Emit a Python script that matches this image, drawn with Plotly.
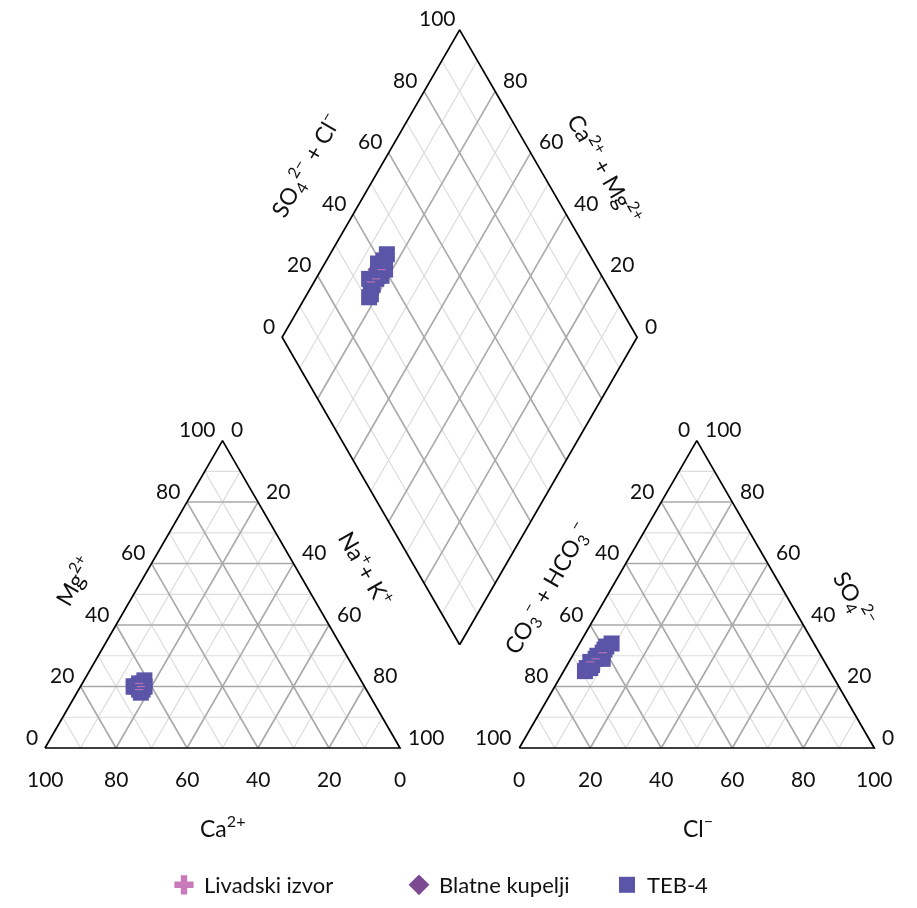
import plotly.graph_objects as go
import math

# ---------------- data (% meq) ----------------
series_names = ["Livadski izvor", "Blatne kupelji", "TEB-4"]

teb_ca   = [64, 62, 63, 61, 64, 65, 63, 62, 65, 63, 64, 62]
teb_mg   = [18, 21, 20, 22, 19, 20, 21, 20, 20, 19, 20, 20]
teb_nak  = [18, 17, 17, 17, 17, 15, 16, 18, 15, 18, 16, 18]
teb_hco3 = [69, 67, 66, 64, 63, 61, 59, 60, 66, 62, 57, 68]
teb_so4  = [25, 26, 28, 29, 30, 31, 33, 32, 27, 29, 34, 26]
teb_cl   = [6, 7, 6, 7, 7, 8, 8, 8, 7, 9, 9, 6]

liv_ca   = [63, 64, 63]
liv_mg   = [20, 19, 21]
liv_nak  = [17, 17, 16]
liv_hco3 = [64, 61, 66]
liv_so4  = [29, 31, 28]
liv_cl   = [7, 8, 6]

bla_ca   = [63, 64]
bla_mg   = [20, 20]
bla_nak  = [17, 16]
bla_hco3 = [63, 62]
bla_so4  = [30, 30]
bla_cl   = [7, 8]

tick_values = [0, 20, 40, 60, 80, 100]

# ---------------- geometry ----------------
S = math.sqrt(3) / 2
G = 33.6            # gap between triangles
PX = 3.55           # px per unit
X0, Y0 = 45, 748    # pixel of left-triangle origin


def left_pt(ca, mg, na):
    return na + mg / 2, mg * S


def right_pt(hco3, so4, cl):
    return 100 + G + cl + so4 / 2, so4 * S


def dia_pt(a, m):
    bx, by = 100 + G / 2, G * S
    return bx + 0.5 * a - 0.5 * m, by + S * a + S * m


def px2u(px, py):
    return (px - X0) / PX, (Y0 - py) / PX


fig = go.Figure()

light_x, light_y, dark_x, dark_y = [], [], [], []


def add_seg(p, q, k):
    if k % 20 == 0:
        dark_x.extend([p[0], q[0], None]); dark_y.extend([p[1], q[1], None])
    else:
        light_x.extend([p[0], q[0], None]); light_y.extend([p[1], q[1], None])


for k in range(10, 100, 10):
    add_seg(left_pt(100 - k, k, 0), left_pt(0, k, 100 - k), k)
    add_seg(left_pt(100 - k, 0, k), left_pt(0, 100 - k, k), k)
    add_seg(left_pt(k, 0, 100 - k), left_pt(k, 100 - k, 0), k)
    add_seg(right_pt(100 - k, k, 0), right_pt(0, k, 100 - k), k)
    add_seg(right_pt(100 - k, 0, k), right_pt(0, 100 - k, k), k)
    add_seg(right_pt(k, 0, 100 - k), right_pt(k, 100 - k, 0), k)
    add_seg(dia_pt(k, 0), dia_pt(k, 100), k)
    add_seg(dia_pt(0, k), dia_pt(100, k), k)

fig.add_trace(go.Scatter(x=light_x, y=light_y, mode="lines",
                         line=dict(color="#dcdcdc", width=1.2),
                         hoverinfo="skip", showlegend=False))
fig.add_trace(go.Scatter(x=dark_x, y=dark_y, mode="lines",
                         line=dict(color="#a8a8a8", width=1.6),
                         hoverinfo="skip", showlegend=False))

ox, oy = [], []
for poly in [
    [left_pt(100, 0, 0), left_pt(0, 0, 100), left_pt(0, 100, 0), left_pt(100, 0, 0)],
    [right_pt(100, 0, 0), right_pt(0, 0, 100), right_pt(0, 100, 0), right_pt(100, 0, 0)],
    [dia_pt(0, 0), dia_pt(100, 0), dia_pt(100, 100), dia_pt(0, 100), dia_pt(0, 0)],
]:
    for p in poly:
        ox.append(p[0]); oy.append(p[1])
    ox.append(None); oy.append(None)
fig.add_trace(go.Scatter(x=ox, y=oy, mode="lines",
                         line=dict(color="black", width=1.7),
                         hoverinfo="skip", showlegend=False))


def all_points(ca, mg, nak, hco3, so4, cl):
    xs, ys = [], []
    for i in range(len(ca)):
        p = left_pt(ca[i], mg[i], nak[i]); xs.append(p[0]); ys.append(p[1])
        p = right_pt(hco3[i], so4[i], cl[i]); xs.append(p[0]); ys.append(p[1])
        p = dia_pt(so4[i] + cl[i], ca[i] + mg[i]); xs.append(p[0]); ys.append(p[1])
    return xs, ys


PINK, PURPLE, BLUE = "#c97ab8", "#7b4a91", "#5b55a8"

# legend entries
fig.add_trace(go.Scatter(x=[None], y=[None], mode="markers", name=series_names[0],
                         marker=dict(symbol="cross", size=16, color=PINK),
                         legend="legend"))
bx, by = all_points(bla_ca, bla_mg, bla_nak, bla_hco3, bla_so4, bla_cl)
fig.add_trace(go.Scatter(x=bx, y=by, mode="markers", name=series_names[1],
                         marker=dict(symbol="diamond", size=16, color=PURPLE),
                         legend="legend2"))
tx, ty = all_points(teb_ca, teb_mg, teb_nak, teb_hco3, teb_so4, teb_cl)
fig.add_trace(go.Scatter(x=tx, y=ty, mode="markers", name=series_names[2],
                         marker=dict(symbol="square", size=16, color=BLUE),
                         legend="legend3"))
lx, ly = all_points(liv_ca, liv_mg, liv_nak, liv_hco3, liv_so4, liv_cl)
fig.add_trace(go.Scatter(x=lx, y=ly, mode="markers", name=series_names[0],
                         marker=dict(symbol="line-ew-open", size=6, color=PINK,
                                     line=dict(width=1.2, color=PINK)),
                         showlegend=False, opacity=0.8))

# ---------------- tick labels ----------------
FONT = "Lato, 'Noto Sans', sans-serif"
ann = []


def tick(x, y, text, xanchor, xs, ys):
    ann.append(dict(x=x, y=y, text=text, showarrow=False, xanchor=xanchor,
                    yanchor="middle", xshift=xs, yshift=ys,
                    font=dict(family=FONT, size=21, color="#111111")))


for v in tick_values:
    t = str(v)
    p = left_pt(100 - v, v, 0); tick(p[0], p[1], t, "right", -5, 12)
    p = left_pt(v, 0, 100 - v); tick(p[0], p[1], t, "center", 0, -30)
    p = left_pt(0, 100 - v, v); tick(p[0], p[1], t, "left", 6, 12)
    p = right_pt(v, 100 - v, 0); tick(p[0], p[1], t, "right", -5, 12)
    p = right_pt(100 - v, 0, v); tick(p[0], p[1], t, "center", 0, -30)
    p = right_pt(0, v, 100 - v); tick(p[0], p[1], t, "left", 6, 12)
    p = dia_pt(v, 100); tick(p[0], p[1], t, "right", -2 if v == 100 else -5, 12)
    if v != 100:
        p = dia_pt(100, v); tick(p[0], p[1], t, "left", 6, 12)


def title(px, py, text, angle):
    x, y = px2u(px, py)
    ann.append(dict(x=x, y=y, text=text, showarrow=False, textangle=angle,
                    xanchor="center", yanchor="middle",
                    font=dict(family=FONT, size=23, color="#111111")))


title(222, 826, "Ca<sup>2+</sup>", 0)
title(698, 826, "Cl<sup>−</sup>", 0)
title(73, 580, "Mg<sup>2+</sup>", -60)
title(367, 568, "Na<sup>+</sup>+ K<sup>+</sup>", 60)
title(546, 588, "CO<sub>3</sub><sup>−</sup> + HCO<sub>3</sub><sup>−</sup>", -60)
title(855, 598, "SO<sub>4</sub><sup>2−</sup>", 60)
title(305, 165, "SO<sub>4</sub><sup>2−</sup> + Cl<sup>−</sup>", -60)
title(606, 168, "Ca<sup>2+</sup> + Mg<sup>2+</sup>", 60)

xr0, yr0 = px2u(0, 908)
xr1, yr1 = px2u(917, 0)

leg_common = dict(orientation="h", yanchor="middle", y=(908 - 885) / 908,
                  xanchor="left", font=dict(family=FONT, size=22, color="#111111"),
                  bgcolor="rgba(0,0,0,0)")

fig.update_layout(
    width=917, height=908,
    margin=dict(l=0, r=0, t=0, b=0),
    paper_bgcolor="white", plot_bgcolor="white",
    xaxis=dict(range=[xr0, xr1], visible=False, fixedrange=True),
    yaxis=dict(range=[yr0, yr1], visible=False, fixedrange=True),
    annotations=ann,
    showlegend=True,
    legend=dict(x=(185 - 21) / 917, **leg_common),
    legend2=dict(x=(420 - 21) / 917, **leg_common),
    legend3=dict(x=(628 - 21) / 917, **leg_common),
)

fig.write_html("out.html")
